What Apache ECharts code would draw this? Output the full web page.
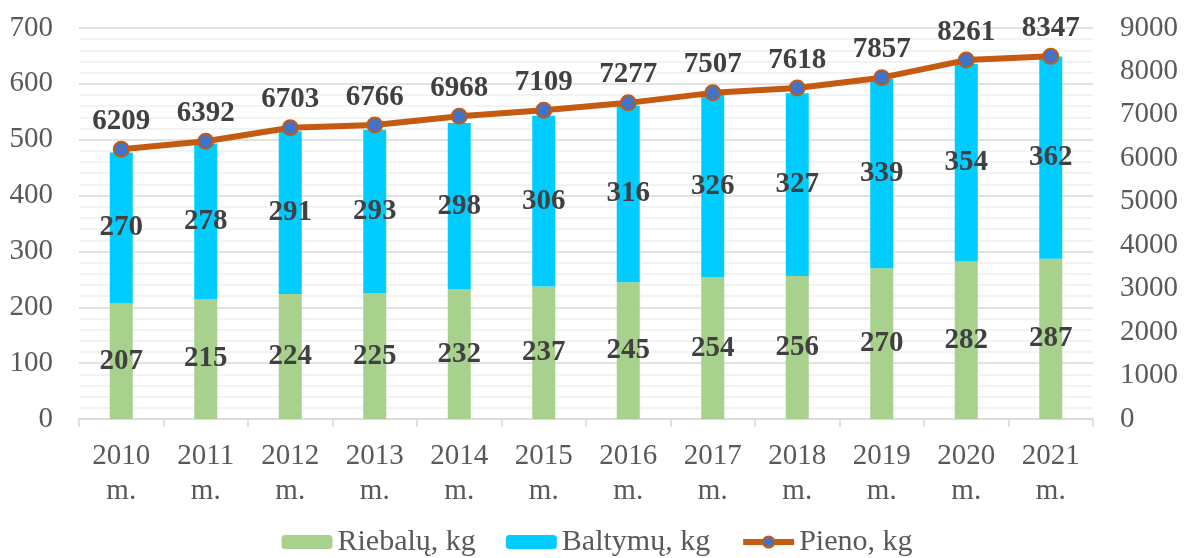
<!DOCTYPE html>
<html>
<head>
<meta charset="utf-8">
<script src="https://cdn.jsdelivr.net/npm/echarts@6/dist/echarts.min.js"></script>
<style>
  html, body { margin: 0; padding: 0; background: #fff; }
  #chart { width: 1194px; height: 558px; }
</style>
</head>
<body>
<div id="chart"></div>
<script>
var years = ['2010\nm.', '2011\nm.', '2012\nm.', '2013\nm.', '2014\nm.', '2015\nm.',
	'2016\nm.', '2017\nm.', '2018\nm.', '2019\nm.', '2020\nm.', '2021\nm.'];
var riebalu = [207, 215, 224, 225, 232, 237, 245, 254, 256, 270, 282, 287];
var baltymu = [270, 278, 291, 293, 298, 306, 316, 326, 327, 339, 354, 362];
var pieno = [6209, 6392, 6703, 6766, 6968, 7109, 7277, 7507, 7618, 7857, 8261, 8347];

var font = '"Liberation Serif", "Times New Roman", serif';

var barLabel = {
	show: true,
	position: 'inside',
	fontFamily: font,
	fontSize: 29,
	fontWeight: 'bold',
	color: '#404040'
};

var myChart = echarts.init(document.getElementById('chart'));

var option = {
	animation: false,
	textStyle: { fontFamily: font },
	grid: {
		left: 79,
		right: 101,
		top: 28,
		bottom: 139
	},
	legend: {
		bottom: -4,
		left: 'center',
		itemWidth: 51,
		itemHeight: 14,
		itemGap: 30,
		textStyle: {
			fontFamily: font,
			fontSize: 30,
			color: '#595959'
		},
		data: ['Riebalų, kg', 'Baltymų, kg', {
			name: 'Pieno, kg',
			lineStyle: { width: 6, color: '#C55A11' }
		}]
	},
	xAxis: {
		type: 'category',
		data: years,
		axisLine: { lineStyle: { color: '#D9D9D9', width: 1.5 } },
		axisTick: { show: true, length: 8, lineStyle: { color: '#D9D9D9', width: 1.5 } },
		axisLabel: {
			margin: 20,
			fontFamily: font,
			fontSize: 29,
			lineHeight: 35,
			color: '#595959'
		}
	},
	yAxis: [{
		type: 'value',
		min: 0,
		max: 700,
		interval: 100,
		axisLine: { show: false },
		axisTick: { show: false },
		axisLabel: { margin: 26, fontFamily: font, fontSize: 29, color: '#595959' },
		splitLine: { lineStyle: { color: '#D9D9D9', width: 1.5 } },
		minorTick: { show: false, splitNumber: 5 },
		minorSplitLine: { show: true, lineStyle: { color: '#F0F0F0', width: 1.5 } }
	}, {
		type: 'value',
		min: 0,
		max: 9000,
		interval: 1000,
		axisLine: { show: false },
		axisTick: { show: false },
		axisLabel: {
			margin: 27,
			fontFamily: font,
			fontSize: 29,
			color: '#595959',
			formatter: function (v) { return String(v); }
		},
		splitLine: { show: false }
	}],
	series: [{
		name: 'Riebalų, kg',
		type: 'bar',
		stack: 'total',
		barWidth: 23,
		itemStyle: { color: '#A9D18E' },
		label: barLabel,
		data: riebalu
	}, {
		name: 'Baltymų, kg',
		type: 'bar',
		stack: 'total',
		barWidth: 23,
		itemStyle: { color: '#00CCFF' },
		label: barLabel,
		data: baltymu
	}, {
		name: 'Pieno, kg',
		type: 'line',
		yAxisIndex: 1,
		symbol: 'circle',
		symbolSize: 15,
		lineStyle: { color: '#C55A11', width: 6 },
		itemStyle: { color: '#4472C4', borderColor: '#C55A11', borderWidth: 2 },
		label: {
			show: true,
			position: 'top',
			distance: 5,
			fontFamily: font,
			fontSize: 29,
			fontWeight: 'bold',
			color: '#404040'
		},
		z: 5,
		data: pieno
	}]
};

myChart.setOption(option);
</script>
</body>
</html>
